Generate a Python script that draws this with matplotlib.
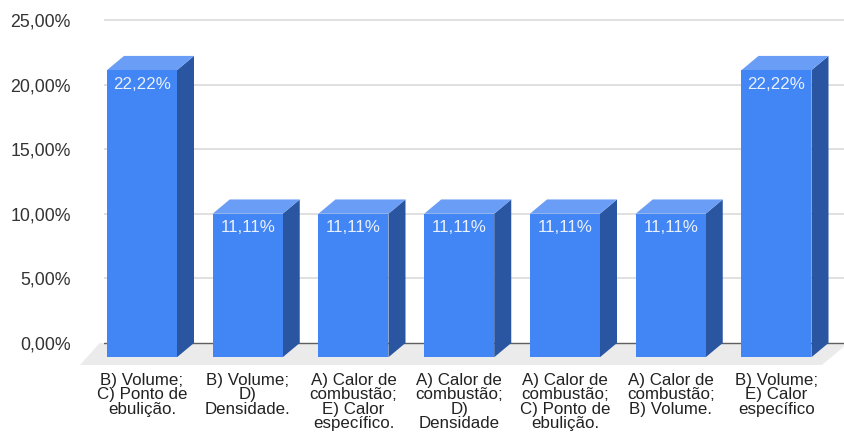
import matplotlib.pyplot as plt
from matplotlib.patches import Polygon
import numpy as np

categories = ['B) Volume;\nC) Ponto de\nebulição.',
              'B) Volume;\nD)\nDensidade.',
              'A) Calor de\ncombustão;\nE) Calor\nespecífico.',
              'A) Calor de\ncombustão;\nD)\nDensidade',
              'A) Calor de\ncombustão;\nC) Ponto de\nebulição.',
              'A) Calor de\ncombustão;\nB) Volume.',
              'B) Volume;\nE) Calor\nespecífico']
values = [22.22, 11.11, 11.11, 11.11, 11.11, 11.11, 22.22]
yticks = [0, 5, 10, 15, 20, 25]
ytick_labels = ['0,00%', '5,00%', '10,00%', '15,00%', '20,00%', '25,00%']

front = '#4285F4'
side = '#2A56A1'
top = '#6A9DF6'

plt.rcParams['font.family'] = ['Liberation Sans', 'DejaVu Sans']

fig = plt.figure(figsize=(8.45, 4.32), dpi=100)
ax = fig.add_axes([104/845, 67/432, 741/845, 350/432])
ax.set_xlim(-0.359, 6.648)
ax.set_ylim(-1.703, 25.387)

# depth of the 3d effect (x in category units, y in percent)
dx = 0.161
dy = 1.1
w = 0.331

# floor
floor = Polygon([(-0.40, 0), (6.68, 0), (6.43, -1.7), (-0.586, -1.7)],
                closed=True, facecolor='#EBEBEB', edgecolor='none',
                zorder=1, clip_on=False)
ax.add_patch(floor)

for y in yticks[1:]:
    ax.axhline(y, color='#DADADA', lw=1.2, zorder=0.5)
ax.axhline(0, color='#5F5F5F', lw=1.0, zorder=1.5)

for i, v in enumerate(values):
    x0 = i - w
    x1 = i + w
    y0 = -dy
    y1 = v - dy
    ax.add_patch(Polygon([(x1, y0), (x1 + dx, 0), (x1 + dx, v), (x1, y1)],
                         closed=True, facecolor=side, edgecolor='none', zorder=3))
    ax.add_patch(Polygon([(x0, y1), (x0 + dx, v), (x1 + dx, v), (x1, y1)],
                         closed=True, facecolor=top, edgecolor='none', zorder=3))
    ax.add_patch(Polygon([(x0, y0), (x1, y0), (x1, y1), (x0, y1)],
                         closed=True, facecolor=front, edgecolor='none', zorder=4))
    label = ('%.2f%%' % v).replace('.', ',')
    ax.text(i, y1 - 1.08, label, ha='center', va='center', color='#EAF1FE',
            fontsize=12.2, zorder=5)

ax.set_yticks(yticks)
ax.set_yticklabels(ytick_labels, fontsize=12.8, color='#333333')
ax.set_xticks(range(len(categories)))
ax.set_xticklabels(categories, fontsize=12.2, color='#222222')
for lbl in ax.get_xticklabels():
    lbl.set_linespacing(0.93)
ax.tick_params(axis='y', length=0, pad=24)
ax.tick_params(axis='x', length=0, pad=6)
for s in ax.spines.values():
    s.set_visible(False)

plt.savefig('out.png', dpi=100)
